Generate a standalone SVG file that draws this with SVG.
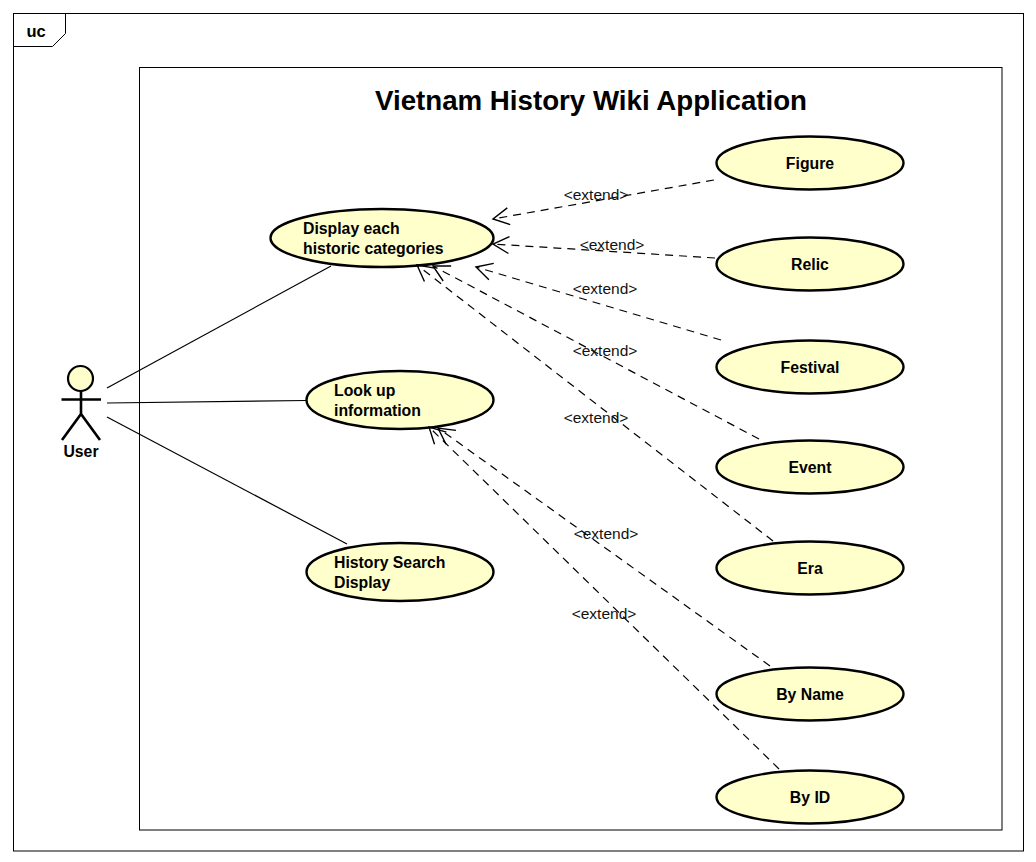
<svg xmlns="http://www.w3.org/2000/svg" width="1036" height="862" viewBox="0 0 1036 862">
<style>
text{font-family:"Liberation Sans",Arial,sans-serif;fill:#000}
.frame{fill:none;stroke:#000;stroke-width:1}
.uc{fill:#ffffcc;stroke:#000;stroke-width:2.4}
.lbl{font-size:15.800px;font-weight:bold}
.mid{text-anchor:middle}
.assoc{fill:none;stroke:#000;stroke-width:1.2}
.ext{fill:none;stroke:#000;stroke-width:1.2;stroke-dasharray:8 6;marker-end:url(#open)}
.st{font-size:15.500px;fill:#111}
.actor{fill:none;stroke:#000;stroke-width:2.6}
</style>
<defs>
<marker id="open" markerUnits="userSpaceOnUse" markerWidth="24" markerHeight="24" refX="22" refY="12" orient="auto" viewBox="0 0 24 24">
<path d="M6 3.500 L22 12 L6 20.500" fill="none" stroke="#000" stroke-width="1.400"/>
</marker>
</defs>
<rect width="1036" height="862" fill="#fff"/>
<g id="frame">
<rect class="frame" x="13.500" y="13.500" width="1010" height="837.500"/>
<path class="frame" d="M13.500 46.500H52.500L65.500 33.500V13.500"/>
<text x="26.500" y="36.500" font-size="16.500" font-weight="bold">uc</text>
</g>
<g id="system">
<rect class="frame" x="139.500" y="67.500" width="862.500" height="762.500"/>
<text x="591" y="110" font-size="27.700" font-weight="bold" class="mid">Vietnam History Wiki Application</text>
</g>
<g id="user">
<circle cx="80.500" cy="378.500" r="12.500" fill="#ffffcc" stroke="#000" stroke-width="2.200"/>
<path class="actor" d="M81 391V414M61.500 399.500H101M62 440L81 414L100 440"/>
<text class="lbl mid" x="81" y="457">User</text>
</g>
<g id="display"><ellipse class="uc" cx="382" cy="238" rx="111.500" ry="29"/><text class="lbl" x="303" y="234">Display each</text><text class="lbl" x="303" y="254">historic categories</text></g>
<g id="lookup"><ellipse class="uc" cx="400" cy="400" rx="93.500" ry="29"/><text class="lbl" x="334" y="396">Look up</text><text class="lbl" x="334" y="416">information</text></g>
<g id="search"><ellipse class="uc" cx="400" cy="572" rx="93.500" ry="29"/><text class="lbl" x="334" y="568">History Search</text><text class="lbl" x="334" y="588">Display</text></g>
<g id="figure"><ellipse class="uc" cx="810" cy="163" rx="93.500" ry="26.500"/><text class="lbl mid" x="810" y="169">Figure</text></g>
<g id="relic"><ellipse class="uc" cx="810" cy="264" rx="93.500" ry="26.500"/><text class="lbl mid" x="810" y="270">Relic</text></g>
<g id="festival"><ellipse class="uc" cx="810" cy="367" rx="93.500" ry="26.500"/><text class="lbl mid" x="810" y="373">Festival</text></g>
<g id="event"><ellipse class="uc" cx="810" cy="467" rx="93.500" ry="26.500"/><text class="lbl mid" x="810" y="473">Event</text></g>
<g id="era"><ellipse class="uc" cx="810" cy="568" rx="93.500" ry="26.500"/><text class="lbl mid" x="810" y="574">Era</text></g>
<g id="byname"><ellipse class="uc" cx="810" cy="694" rx="93.500" ry="26.500"/><text class="lbl mid" x="810" y="700">By Name</text></g>
<g id="byid"><ellipse class="uc" cx="810" cy="797" rx="93.500" ry="26.500"/><text class="lbl mid" x="810" y="803">By ID</text></g>
<g id="connectors">
<path class="assoc" d="M107 388L331 266"/>
<path class="assoc" d="M107 403L306 400.500"/>
<path class="assoc" d="M107 417L347 544"/>
<path class="ext" d="M714 180L493 219"/>
<path class="ext" d="M715 258L493 244"/>
<path class="ext" d="M721 340L476 267"/>
<path class="ext" d="M759 439L433 266"/>
<path class="ext" d="M773 541L417 265"/>
<path class="ext" d="M770 666L438 428"/>
<path class="ext" d="M779 769L429 427"/>
<text class="st mid" x="596" y="199.500">&lt;extend&gt;</text>
<text class="st mid" x="612" y="249.500">&lt;extend&gt;</text>
<text class="st mid" x="605" y="293.500">&lt;extend&gt;</text>
<text class="st mid" x="605" y="355.500">&lt;extend&gt;</text>
<text class="st mid" x="596" y="422.500">&lt;extend&gt;</text>
<text class="st mid" x="606" y="538.500">&lt;extend&gt;</text>
<text class="st mid" x="604" y="618.500">&lt;extend&gt;</text>
</g>
</svg>
